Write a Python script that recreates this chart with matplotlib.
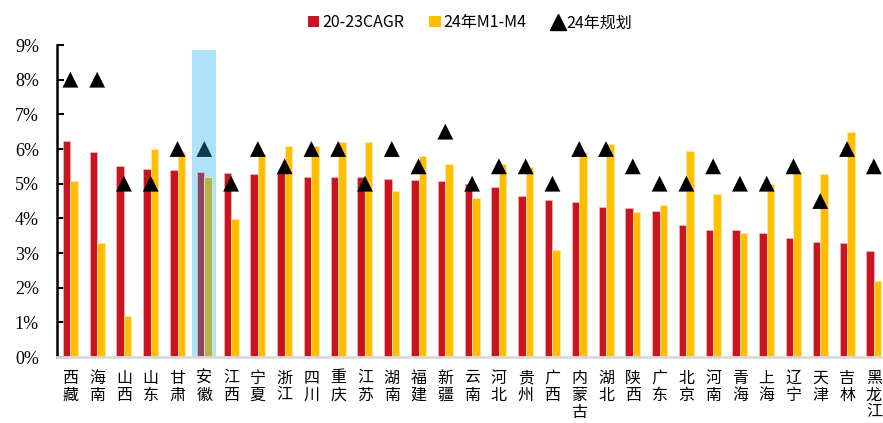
import numpy as np
import matplotlib
matplotlib.use("Agg")
import matplotlib.pyplot as plt
from matplotlib.lines import Line2D
from matplotlib.patches import Patch

plt.rcParams['font.family'] = ['Noto Sans CJK SC', 'DejaVu Sans']

provinces = ["西藏", "海南", "山西", "山东", "甘肃", "安徽", "江西", "宁夏", "浙江", "四川",
             "重庆", "江苏", "湖南", "福建", "新疆", "云南", "河北", "贵州", "广西", "内蒙古",
             "湖北", "陕西", "广东", "北京", "河南", "青海", "上海", "辽宁", "天津", "吉林", "黑龙江"]
cagr_20_23 = [6.22, 5.92, 5.50, 5.42, 5.40, 5.35, 5.32, 5.28, 5.30, 5.19,
              5.19, 5.19, 5.13, 5.10, 5.07, 4.99, 4.90, 4.63, 4.52, 4.46,
              4.33, 4.30, 4.21, 3.82, 3.66, 3.66, 3.59, 3.42, 3.31, 3.28, 3.06]
m1_m4_24 = [5.09, 3.29, 1.18, 6.00, 5.90, 5.19, 3.99, 5.85, 6.09, 6.10,
            6.19, 6.19, 4.79, 5.80, 5.58, 4.58, 5.58, 5.48, 3.08, 5.90,
            6.14, 4.18, 4.38, 5.94, 4.69, 3.58, 4.99, 5.35, 5.29, 6.48, 2.19]
plan_24 = [8.0, 8.0, 5.0, 5.0, 6.0, 6.0, 5.0, 6.0, 5.5, 6.0,
           6.0, 5.0, 6.0, 5.5, 6.5, 5.0, 5.5, 5.5, 5.0, 6.0,
           6.0, 5.5, 5.0, 5.0, 5.5, 5.0, 5.0, 5.5, 4.5, 6.0, 5.5]
highlight = "安徽"
band_top = 8.85

RED = "#CA1520"
YELLOW = "#FFBF00"

fig = plt.figure(figsize=(8.83, 4.23), dpi=100)
ax = fig.add_axes([57 / 883, 66 / 423, 827 / 883, 312 / 423])

x = np.arange(len(provinces))
w = 0.28
hi = provinces.index(highlight)

# 安徽 sits under the blue band, so its marks take the blended colours
red_colors = [RED] * len(x)
yel_colors = [YELLOW] * len(x)
tri_colors = ["black"] * len(x)
red_colors[hi] = "#8B4562"
yel_colors[hi] = "#AEB450"
tri_colors[hi] = "#0C3A4B"

ax.bar(hi, band_top / 100, width=0.9, color="#ADE3F8", zorder=1)
ax.bar(x - w / 2, np.array(cagr_20_23) / 100, width=w, color=red_colors,
       edgecolor="#F2B8BC", linewidth=0.5, zorder=2)
ax.bar(x + w / 2, np.array(m1_m4_24) / 100, width=w, color=yel_colors,
       edgecolor="#FFE9A8", linewidth=0.5, zorder=2)
ax.scatter(x, np.array(plan_24) / 100, marker="^", s=130, c=tri_colors,
           linewidths=0, zorder=3)

ax.set_xlim(-0.5, 30.38)
ax.set_ylim(0, 0.09)
ax.set_yticks(np.arange(0, 0.091, 0.01))
ax.set_yticklabels([f"{i}%" for i in range(10)], fontfamily="Liberation Serif", fontsize=13)
ax.set_xticks(x)
ax.set_xticklabels(["\n".join(p) for p in provinces], fontsize=11.5, linespacing=1.0, va="top")

ax.tick_params(axis="y", direction="in", length=5, width=1.5, color="black", pad=13)
ax.tick_params(axis="x", length=0, pad=9)
for s in ["top", "right"]:
    ax.spines[s].set_visible(False)
ax.spines["left"].set_color("black")
ax.spines["left"].set_linewidth(1.8)
ax.spines["bottom"].set_color("#D9D9D9")
ax.spines["bottom"].set_linewidth(2)

handles = [Patch(facecolor=RED, label="20-23CAGR"),
           Patch(facecolor=YELLOW, label="24年M1-M4"),
           Line2D([], [], marker="^", color="black", linestyle="none", markersize=11, label="24年规划")]
fig.legend(handles=handles, loc="upper center", bbox_to_anchor=(470 / 883, 1.0), ncol=3,
           frameon=False, fontsize=11.5, handlelength=0.7, handleheight=0.7, handletextpad=0.2,
           columnspacing=1.6)

fig.savefig("out.png", dpi=100)
